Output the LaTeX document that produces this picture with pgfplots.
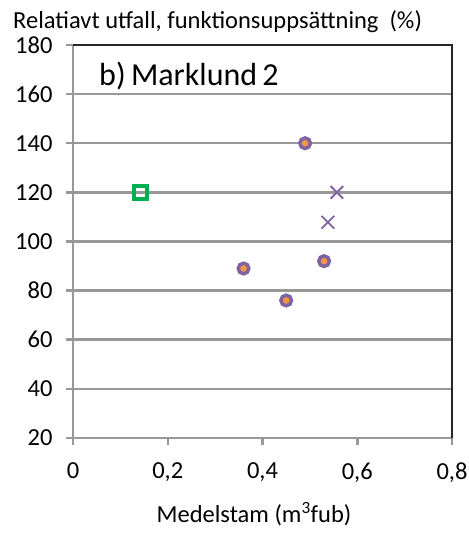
\documentclass[border=0pt]{standalone}
\usepackage{fontspec}
\setmainfont{Carlito}
\usepackage{pgfplots}
\pgfplotsset{compat=1.18}
\definecolor{gridgray}{RGB}{152,152,152}
\definecolor{mpurple}{RGB}{128,100,162}
\definecolor{morange}{RGB}{247,150,70}
\definecolor{mgreen}{RGB}{0,176,80}
\begin{document}
\begin{tikzpicture}[x=1bp,y=1bp]
\path[use as bounding box] (-73,-96) rectangle (396,438);
\begin{axis}[
  at={(0,0)}, anchor=south west,
  width=379bp, height=393bp, scale only axis,
  xmin=0, xmax=0.8, ymin=20, ymax=180,
  xtick={0,0.2,0.4,0.6,0.8},
  xticklabels={0,{0,2},{0,4},{0,6},{0,8}},
  ytick={20,40,...,180},
  xtick pos=bottom, ytick pos=left,
  tick align=outside,
  major tick length=7bp,
  tick style={gridgray, line width=2.5bp},
  ymajorgrids,
  major grid style={gridgray, line width=2.5bp},
  axis line style={draw=none},
  /pgf/number format/assume math mode=true,
  tick label style={font=\fontsize{24.5bp}{29bp}\selectfont},
  yticklabel style={xshift=-10bp},
  xticklabel style={yshift=-14bp},
  clip=false,
]
\draw[gridgray, line width=2.8bp] (rel axis cs:0,1) -- (rel axis cs:0,0) -- (rel axis cs:1,0);
\draw[black!85, line width=2.8bp] (rel axis cs:0,1) -- (rel axis cs:1,1) -- (rel axis cs:1,0);
\addplot[only marks, mark=*, mark size=5.3bp, mark options={draw=mpurple, fill=morange, line width=3.5bp}]
  coordinates {(0.49,140) (0.36,89) (0.45,76) (0.53,92)};
\addplot[only marks, mark=x, mark size=9bp, mark options={draw=mpurple, line width=1.8bp}]
  coordinates {(0.557,120) (0.538,107.8)};
\addplot[only marks, mark=square, mark size=6.5bp, mark options={draw=mgreen, fill=white, line width=3.5bp}]
  coordinates {(0.143,120)};
\end{axis}
\node[anchor=west, inner sep=0pt, font=\fontsize{24.5bp}{29bp}\selectfont] at (-60,416) {Relatiavt utfall, funktionsupps\"attning\ \ (\%)};
\node[anchor=west, inner sep=0pt, font=\fontsize{32bp}{38bp}\selectfont] at (26,362) {b)\,Marklund\,2};
\node[anchor=center, inner sep=0pt, font=\fontsize{24.5bp}{29bp}\selectfont] at (181,-76) {Medelstam (m\textsuperscript{3}fub)};
\end{tikzpicture}
\end{document}
